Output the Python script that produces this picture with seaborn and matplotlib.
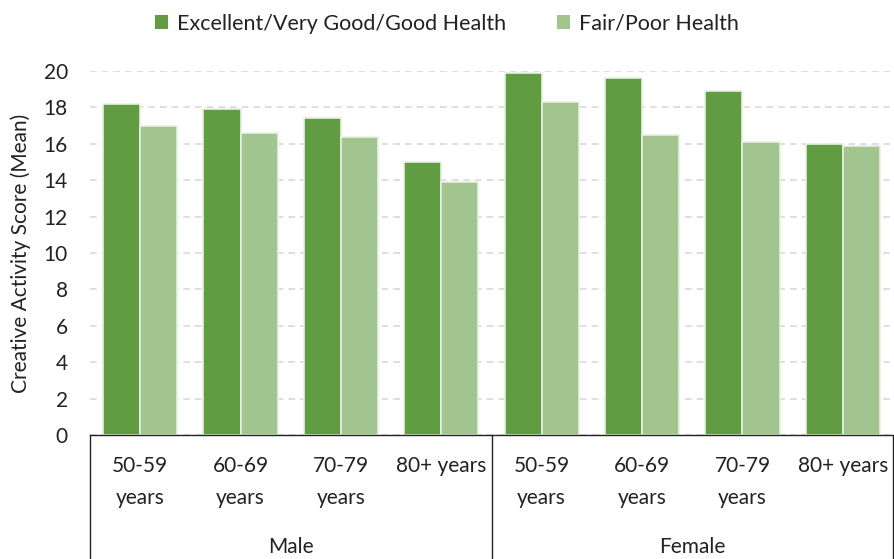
import matplotlib
matplotlib.use("Agg")
import matplotlib.pyplot as plt
import seaborn as sns
import pandas as pd
from matplotlib.patches import Patch

genders = ["Male", "Female"]
age_groups = ["50-59\nyears", "60-69\nyears", "70-79\nyears", "80+ years"]
series_names = ["Excellent/Very Good/Good Health", "Fair/Poor Health"]
good_health = [18.2, 17.9, 17.4, 15.0, 19.9, 19.6, 18.9, 16.0]
fair_health = [17.0, 16.6, 16.4, 13.9, 18.3, 16.5, 16.1, 15.9]
colors = ["#619b42", "#a2c48f"]

cats = [f"{g}|{a}" for g in genders for a in age_groups]
rows = []
for c, v in zip(cats, good_health):
    rows.append({"cat": c, "score": v, "health": series_names[0]})
for c, v in zip(cats, fair_health):
    rows.append({"cat": c, "score": v, "health": series_names[1]})
df = pd.DataFrame(rows)

sns.set_style("white")
plt.rcParams["font.family"] = ["Lato", "DejaVu Sans"]
FS = 15
TXT = "#222222"

fig = plt.figure(figsize=(8.94, 5.59), dpi=100)
ax = fig.add_axes([90 / 894, 1 - 435 / 559, 803 / 894, (435 - 71) / 559])

sns.barplot(data=df, x="cat", y="score", hue="health", order=cats,
            hue_order=series_names, palette=colors, saturation=1, width=0.74,
            edgecolor="#e8f0e2", linewidth=1.2, ax=ax, legend=False)

ax.set_ylim(0, 20)
ax.set_xlim(-0.5, len(cats) - 0.5)
ax.set_yticks(range(0, 21, 2))
ax.tick_params(axis="y", labelsize=FS, colors=TXT, length=0, pad=16)
ax.yaxis.grid(True, linestyle=(0, (4, 3)), color="#d9d9d9", linewidth=1.2)
ax.set_axisbelow(True)
for s in ["top", "right", "left"]:
    ax.spines[s].set_visible(False)
ax.spines["bottom"].set_color(TXT)
ax.spines["bottom"].set_linewidth(1.0)

ax.set_xticks(range(len(cats)))
ax.set_xticklabels(age_groups * len(genders), fontsize=FS, color=TXT,
                   linespacing=1.75)
ax.tick_params(axis="x", length=0, pad=15)
ax.set_xlabel("")
ax.set_ylabel("Creative Activity Score (Mean)", fontsize=FS, color=TXT,
              labelpad=9)

trans = ax.get_xaxis_transform()
n = len(age_groups)
for i, g in enumerate(genders):
    ax.text(i * n + (n - 1) / 2, -0.307, g, transform=trans, ha="center",
            va="center", fontsize=FS, color=TXT)
for xb in [-0.5 + k * n for k in range(len(genders) + 1)]:
    ax.plot([xb, xb], [0, -0.4], transform=trans, color=TXT,
            linewidth=1.0, clip_on=False)

handles = [Patch(facecolor=c, edgecolor="none") for c in colors]
fig.legend(handles, series_names, loc="upper center", bbox_to_anchor=(0.5, 1.01),
           ncol=2, frameon=False, fontsize=15.5, handlelength=0.6,
           handleheight=0.6, handletextpad=0.4, columnspacing=2.4,
           labelcolor=TXT)

fig.savefig("out.png", dpi=100)
